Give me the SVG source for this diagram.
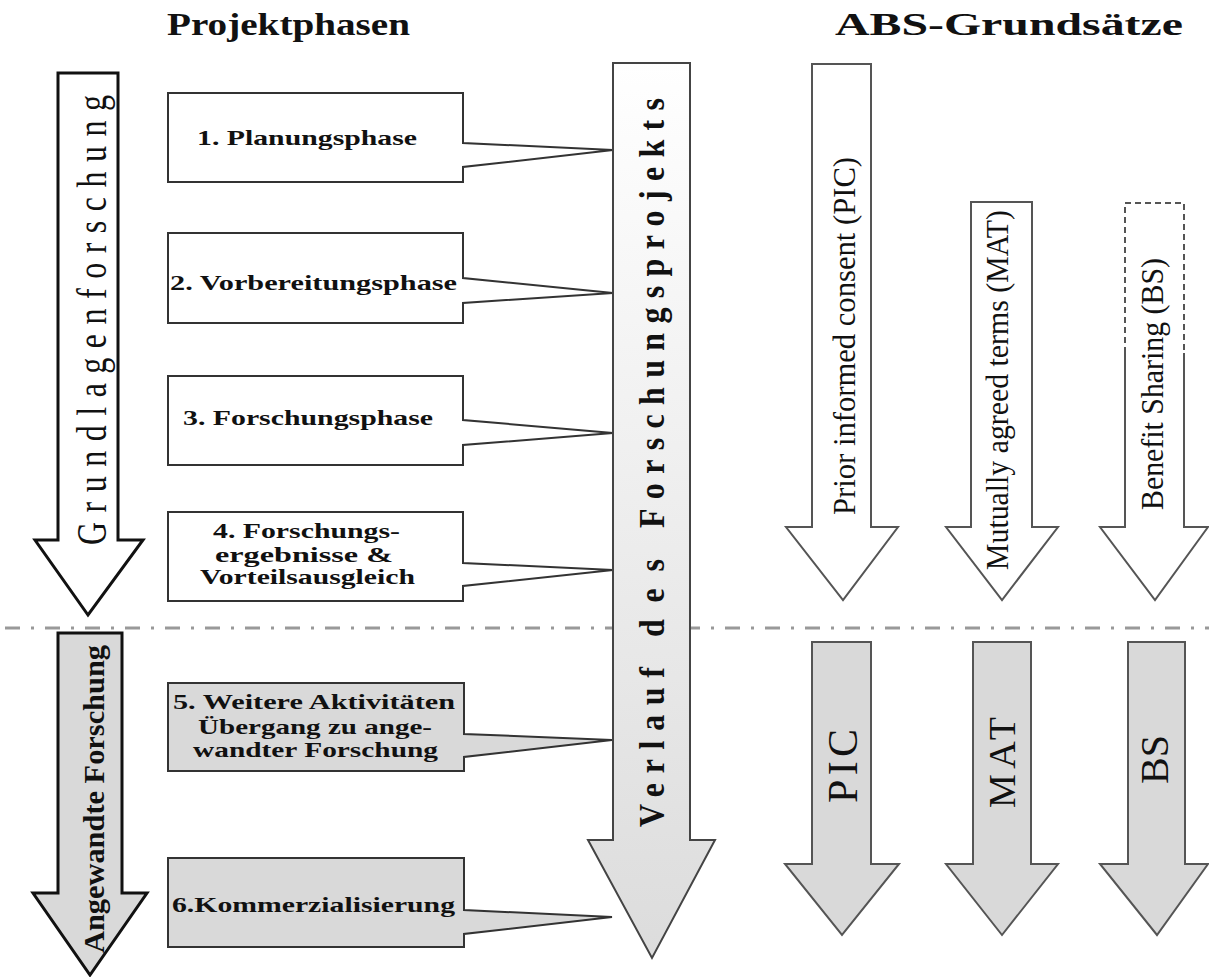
<svg xmlns="http://www.w3.org/2000/svg" width="1209" height="977" viewBox="0 0 1209 977">
<style>
.t{font-family:"Liberation Serif","Times New Roman","DejaVu Serif",serif;fill:#111}
.b{font-weight:bold}
.wb{fill:#fff;stroke:#111;stroke-width:3}
.gb{fill:#d9d9d9;stroke:#111;stroke-width:3}
.wa{fill:#fff;stroke:#555;stroke-width:2}
.ga{fill:#d9d9d9;stroke:#555;stroke-width:2}
.cw{fill:#fff;stroke:#333;stroke-width:2}
.cg{fill:#d9d9d9;stroke:#333;stroke-width:2}
</style>
<defs>
<linearGradient id="cg" x1="0" y1="0" x2="0" y2="1">
<stop offset="0" stop-color="#ffffff"/>
<stop offset="1" stop-color="#dcdcdc"/>
</linearGradient>
</defs>
<g id="titles">
<text class="t b" x="167" y="35" font-size="31" textLength="243" lengthAdjust="spacingAndGlyphs">Projektphasen</text>
<text class="t b" x="835" y="35" font-size="31" textLength="348" lengthAdjust="spacingAndGlyphs">ABS-Grundsätze</text>
</g>
<g id="connectors">
<path d="M5,628 H1209" fill="none" stroke="#999" stroke-width="3" stroke-dasharray="15 11 3 11"/>
</g>
<g id="grundlagen">
<path class="wb" d="M58,73 H118 V540 H143 L88,615 L35,540 H58 Z"/>
<text class="t" font-size="32" transform="translate(106,545) rotate(-90) scale(1,1.35)" textLength="450" lengthAdjust="spacing">Grundlagenforschung</text>
</g>
<g id="angewandte">
<path class="gb" d="M58,633 H122 V893 H147 L90,975 L33,893 H58 Z"/>
<text class="t b" font-size="30" transform="translate(104,953) rotate(-90)" textLength="308" lengthAdjust="spacingAndGlyphs">Angewandte Forschung</text>
</g>
<g id="phase1">
<path class="cw" d="M168,93 H463 V143 L613,150 L463,167 V182 H168 Z"/>
<text class="t b" x="197" y="145" font-size="21" textLength="220" lengthAdjust="spacingAndGlyphs">1. Planungsphase</text>
</g>
<g id="phase2">
<path class="cw" d="M168,233 H463 V278 L613,293 L463,303 V323 H168 Z"/>
<text class="t b" x="170" y="290" font-size="21" textLength="287" lengthAdjust="spacingAndGlyphs">2. Vorbereitungsphase</text>
</g>
<g id="phase3">
<path class="cw" d="M168,376 H463 V420 L613,433 L463,445 V465 H168 Z"/>
<text class="t b" x="183" y="425" font-size="21" textLength="250" lengthAdjust="spacingAndGlyphs">3. Forschungsphase</text>
</g>
<g id="phase4">
<path class="cw" d="M168,512 H463 V563 L613,570 L463,586 V601 H168 Z"/>
<text class="t b" x="213" y="538" font-size="21" textLength="187" lengthAdjust="spacingAndGlyphs">4. Forschungs-</text>
<text class="t b" x="215" y="562" font-size="21" textLength="178" lengthAdjust="spacingAndGlyphs">ergebnisse &amp;</text>
<text class="t b" x="200" y="584" font-size="21" textLength="215" lengthAdjust="spacingAndGlyphs">Vorteilsausgleich</text>
</g>
<g id="phase5">
<path class="cg" d="M168,683 H464 V734 L612,740 L464,757 V771 H168 Z"/>
<text class="t b" x="173" y="709" font-size="21" textLength="282" lengthAdjust="spacingAndGlyphs">5. Weitere Aktivitäten</text>
<text class="t b" x="198" y="734" font-size="21" textLength="234" lengthAdjust="spacingAndGlyphs">Übergang zu ange-</text>
<text class="t b" x="193" y="757" font-size="21" textLength="245" lengthAdjust="spacingAndGlyphs">wandter Forschung</text>
</g>
<g id="phase6">
<path class="cg" d="M168,858 H464 V910 L612,917 L464,934 V947 H168 Z"/>
<text class="t b" x="172" y="912" font-size="21" textLength="283" lengthAdjust="spacingAndGlyphs">6.Kommerzialisierung</text>
</g>
<g id="verlauf">
<path d="M613,63 H690 V840 H715 L652,958 L588,840 H613 Z" fill="url(#cg)" stroke="#444" stroke-width="2"/>
<text class="t b" font-size="32" transform="translate(664,827) rotate(-90) scale(1,1.1)" textLength="160" lengthAdjust="spacing">Verlauf</text>
<text class="t b" font-size="32" transform="translate(664,637) rotate(-90) scale(1,1.1)" textLength="78" lengthAdjust="spacing">des</text>
<text class="t b" font-size="32" transform="translate(664,528) rotate(-90) scale(1,1.1)" textLength="430" lengthAdjust="spacing">Forschungsprojekts</text>
</g>
<g id="pic-top">
<path class="wa" d="M812,64 H871 V527 H898 L843,600 L786,527 H812 Z"/>
<text class="t" font-size="26" transform="translate(855,515) rotate(-90) scale(1,1.2)" textLength="358" lengthAdjust="spacingAndGlyphs">Prior informed consent (PIC)</text>
</g>
<g id="mat-top">
<path class="wa" d="M971,202 H1032 V527 H1058 L1002,600 L946,527 H971 Z"/>
<text class="t" font-size="26" transform="translate(1008,570) rotate(-90) scale(1,1.2)" textLength="360" lengthAdjust="spacingAndGlyphs">Mutually agreed terms (MAT)</text>
</g>
<g id="bs-top">
<path d="M1125,353 V203 H1184 V353" fill="#fff" stroke="#555" stroke-width="2" stroke-dasharray="6 4"/>
<path d="M1125,353 V527 H1100 L1155,600 L1208,527 H1184 V353" fill="#fff" stroke="#555" stroke-width="2"/>
<text class="t" font-size="26" transform="translate(1163,510) rotate(-90) scale(1,1.2)" textLength="252" lengthAdjust="spacingAndGlyphs">Benefit Sharing (BS)</text>
</g>
<g id="pic-bottom">
<path class="ga" d="M812,642 H871 V864 H899 L842,935 L785,864 H812 Z"/>
<text class="t" font-size="42" transform="translate(857,803) rotate(-90)" textLength="74" lengthAdjust="spacing">PIC</text>
</g>
<g id="mat-bottom">
<path class="ga" d="M973,642 H1031 V864 H1058 L1002,935 L946,864 H973 Z"/>
<text class="t" font-size="38" transform="translate(1015,808) rotate(-90)" textLength="91" lengthAdjust="spacing">MAT</text>
</g>
<g id="bs-bottom">
<path class="ga" d="M1128,642 H1185 V864 H1208 L1157,935 L1100,864 H1128 Z"/>
<text class="t" font-size="40" transform="translate(1168,784) rotate(-90)" textLength="49" lengthAdjust="spacing">BS</text>
</g>
</svg>
